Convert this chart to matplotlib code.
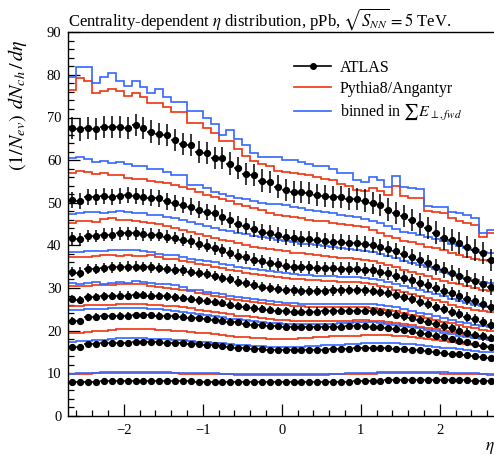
import numpy as np
import matplotlib
matplotlib.use("Agg")
import matplotlib.pyplot as plt
from matplotlib.ticker import MultipleLocator
from matplotlib.lines import Line2D

plt.rcParams['font.family'] = ['Liberation Serif', 'DejaVu Serif']
plt.rcParams['mathtext.fontset'] = 'stix'

# ---------------- data ----------------
eta_edges = np.linspace(-2.7, 2.7, 55)
eta_centers = 0.5 * (eta_edges[:-1] + eta_edges[1:])

atlas_s1 = [67.5,67.2,67.5,67.3,67.8,67.8,67.7,67.5,68.2,67.5,66.7,66.1,65.9,64.7,63.7,63.5,62.0,61.6,60.4,60.4,59.2,58.1,56.7,56.5,55.2,54.9,53.8,
            53.0,52.6,52.6,52.2,51.8,51.6,51.4,51.3,50.9,50.9,50.5,49.9,49.5,48.4,47.5,46.9,45.9,45.0,44.0,43.0,41.6,41.2,40.5,39.7,38.9,38.1,36.5]
atlas_s2 = [50.6,50.4,51.3,51.3,51.6,51.4,51.6,51.8,51.6,51.3,51.2,51.0,50.3,50.0,49.5,49.1,48.4,47.9,47.5,46.7,45.9,44.9,44.5,43.8,43.2,42.8,42.4,
            42.0,41.8,41.5,41.5,41.2,41.1,40.8,40.7,40.6,40.5,40.3,40.0,39.6,39.1,38.6,38.0,37.3,36.6,35.8,35.0,34.2,33.5,32.8,32.2,31.6,31.0,30.2]
atlas_s3 = [41.6,41.4,42.2,42.2,42.5,42.5,42.8,42.8,42.8,42.6,42.5,42.4,42.0,41.7,41.3,40.9,40.4,39.9,39.3,38.8,38.2,37.6,37.2,36.6,36.2,35.8,35.5,
            35.2,35.0,34.9,34.8,34.7,34.6,34.6,34.5,34.5,34.5,34.3,34.1,33.8,33.4,32.9,32.4,31.8,31.2,30.6,30.0,29.3,28.7,28.1,27.5,26.9,26.3,25.6]
atlas_s4 = [33.8,33.6,34.4,34.5,34.7,34.8,34.9,35.0,35.0,34.9,34.8,34.7,34.5,34.3,34.1,33.8,33.5,33.2,32.8,32.4,32.0,31.5,31.1,30.7,30.3,30.0,29.7,
            29.5,29.4,29.3,29.3,29.3,29.3,29.4,29.4,29.5,29.5,29.4,29.3,29.1,28.8,28.4,27.9,27.4,26.8,26.2,25.6,25.0,24.4,23.8,23.2,22.6,22.0,21.4]
atlas_s5 = [27.4,27.2,27.8,27.9,28.0,28.1,28.2,28.2,28.3,28.3,28.2,28.1,28.0,27.8,27.6,27.4,27.1,26.9,26.7,26.4,26.1,25.8,25.5,25.2,25.0,24.8,24.6,
            24.5,24.4,24.4,24.4,24.4,24.5,24.5,24.6,24.6,24.6,24.6,24.5,24.3,24.0,23.7,23.3,22.9,22.5,22.0,21.5,21.0,20.5,20.0,19.5,19.0,18.6,18.2]
atlas_s6 = [22.3,22.2,23.1,23.2,23.3,23.4,23.5,23.5,23.6,23.6,23.6,23.5,23.4,23.3,23.2,23.0,22.9,22.7,22.5,22.3,22.1,21.9,21.6,21.4,21.2,21.1,21.0,
            20.9,20.9,20.8,20.8,20.8,20.9,20.9,20.9,21.0,21.0,21.0,20.9,20.8,20.6,20.4,20.1,19.8,19.5,19.1,18.8,18.4,18.0,17.6,17.2,16.8,16.4,16.1]
atlas_s7 = [16.2,16.2,16.8,16.9,17.0,17.0,17.1,17.1,17.2,17.2,17.2,17.2,17.1,17.1,17.0,16.9,16.8,16.6,16.5,16.3,16.2,16.0,15.9,15.7,15.6,15.5,15.4,
            15.4,15.4,15.4,15.4,15.5,15.5,15.6,15.6,15.7,15.8,15.8,15.8,15.8,15.8,15.7,15.6,15.5,15.4,15.2,15.0,14.8,14.6,14.4,14.2,14.0,13.8,13.5]
atlas_s8 = [7.8,7.8,8.0,8.0,8.1,8.1,8.2,8.2,8.2,8.2,8.2,8.2,8.2,8.1,8.1,8.1,8.0,8.0,8.0,7.9,7.9,7.9,7.8,7.8,7.8,7.8,7.8,
            7.8,7.8,7.8,7.8,7.9,7.9,7.9,8.0,8.0,8.1,8.1,8.2,8.2,8.3,8.3,8.3,8.4,8.4,8.4,8.4,8.4,8.4,8.3,8.3,8.2,8.2,8.1]
atlas_err = [2.6, 1.9, 1.5, 1.2, 1.0, 0.8, 0.6, 0.4]

red_s1 = [76.5,79.2,78.6,75.7,76.3,76.8,76.3,75.1,75.7,74.9,73.3,73.3,72.5,71.3,71.3,68.8,68.8,67.5,66.3,64.5,64.5,62.5,61.0,59.8,59.0,58.5,57.5,
          57.2,57.0,56.7,56.5,56.0,55.6,55.3,54.3,54.0,53.0,52.8,53.5,52.8,51.8,53.9,51.5,51.2,51.0,48.0,47.9,47.6,46.3,45.8,45.2,44.8,42.0,42.8]
blue_s1 = [79.6,81.8,81.8,78.2,79.4,80.5,78.6,77.4,78.6,77.1,75.8,76.6,74.9,73.7,73.7,71.6,71.6,69.8,68.5,65.9,67.1,64.9,63.5,61.6,60.7,60.7,60.7,
           60.0,60.0,59.6,59.2,58.5,58.5,57.8,56.9,56.9,55.4,54.9,56.0,55.4,53.8,56.3,53.8,53.4,53.3,49.3,49.1,49.0,47.8,47.5,47.0,46.5,42.8,43.6]
red_s2 = [57.0,57.5,57.3,56.7,56.9,56.4,56.5,55.9,55.6,55.5,55.1,54.8,54.6,54.1,53.7,53.2,52.6,51.9,51.3,50.8,50.3,49.8,49.2,48.7,48.2,47.6,47.1,
          46.8,46.6,46.3,46.0,45.8,45.6,45.3,45.0,44.8,44.5,44.2,43.7,43.0,42.3,41.6,41.1,40.7,40.2,39.7,39.3,38.8,38.3,37.8,37.3,36.9,36.5,36.3]
blue_s2 = [60.4,60.7,60.2,59.5,59.9,59.3,59.6,59.1,58.6,58.5,57.9,57.9,57.3,56.5,56.5,54.2,54.2,53.4,52.6,52.0,51.6,51.2,50.8,50.3,50.0,49.8,49.7,
           49.4,49.0,48.7,48.3,48.0,47.8,47.5,47.2,46.9,46.6,46.2,45.8,45.2,44.6,43.8,43.2,42.8,42.4,42.0,41.5,41.0,40.4,39.9,39.4,38.9,38.5,38.3]
red_s3 = [45.3,45.8,45.8,45.4,46.2,46.3,45.9,45.9,45.7,45.5,45.2,44.9,44.5,44.0,43.6,43.1,42.6,42.1,41.7,41.3,40.9,40.5,40.1,39.7,39.4,39.1,38.8,
          38.6,38.3,38.1,37.9,37.7,37.5,37.3,37.1,37.0,36.8,36.5,36.2,35.8,35.3,34.8,34.2,33.7,33.2,32.7,32.2,31.7,31.2,30.8,30.4,30.0,29.6,29.3]
blue_s3 = [47.3,47.5,47.8,47.9,47.6,47.8,48.0,47.9,47.6,47.6,47.2,47.0,46.6,46.3,46.0,45.4,45.0,44.6,44.1,43.7,43.3,42.9,42.6,42.2,41.9,41.6,41.3,
           41.0,40.7,40.4,40.2,40.0,39.8,39.5,39.3,39.1,39.0,38.7,38.4,38.0,37.5,37.0,36.4,35.9,35.4,34.9,34.4,33.8,33.3,32.8,32.3,31.8,31.4,31.1]
red_s4 = [37.3,37.3,37.2,37.5,37.8,37.7,37.5,37.7,37.6,37.5,37.8,37.3,36.9,36.8,36.3,36.0,35.6,35.3,35.0,34.6,34.2,33.9,33.6,33.3,33.0,32.7,32.5,
          32.3,32.1,32.0,31.9,31.8,31.7,31.6,31.5,31.4,31.3,31.1,30.8,30.5,30.1,29.6,29.1,28.6,28.1,27.6,27.1,26.6,26.1,25.6,25.2,24.8,24.5,24.3]
blue_s4 = [38.5,38.4,38.6,38.7,38.6,38.8,38.8,38.9,38.9,38.7,38.4,38.0,37.7,37.7,37.2,36.9,36.6,36.3,36.0,35.6,35.3,35.0,34.7,34.4,34.1,33.9,33.7,
           33.5,33.3,33.1,33.0,32.9,32.8,32.7,32.6,32.6,32.5,32.3,32.1,31.8,31.4,31.0,30.5,30.0,29.5,29.0,28.5,28.0,27.5,27.0,26.5,26.0,25.7,25.5]
red_s5 = [30.4,30.4,30.5,30.7,30.7,30.7,30.9,30.8,30.9,30.8,30.5,30.3,30.0,29.8,29.5,29.2,28.9,28.5,28.1,27.8,27.5,27.2,27.0,26.7,26.5,26.3,26.1,
          25.9,25.8,25.7,25.6,25.6,25.6,25.6,25.6,25.6,25.6,25.5,25.3,25.1,24.8,24.5,24.1,23.7,23.3,22.9,22.5,22.1,21.7,21.3,20.9,20.5,20.2,20.0]
blue_s5 = [31.1,31.0,31.2,31.3,31.0,31.2,31.3,31.2,31.6,31.3,31.2,31.0,30.8,30.6,30.3,29.6,29.4,29.1,28.8,28.5,28.2,27.9,27.6,27.3,27.1,26.9,26.7,
           26.5,26.4,26.3,26.2,26.2,26.2,26.2,26.2,26.2,26.3,26.3,26.2,26.0,25.7,25.4,25.0,24.6,24.2,23.8,23.3,22.9,22.5,22.1,21.7,21.3,21.0,20.8]
red_s6 = [25.8,25.8,25.9,26.0,26.0,26.1,26.2,26.2,26.3,26.2,26.1,26.0,25.8,25.7,25.5,25.2,24.9,24.6,24.4,24.1,23.8,23.5,23.3,23.1,22.9,22.7,22.5,
          22.4,22.3,22.2,22.2,22.2,22.2,22.3,22.3,22.3,22.4,22.4,22.3,22.2,22.0,21.8,21.5,21.2,20.9,20.6,20.3,19.9,19.6,19.3,19.0,18.7,18.5,18.3]
blue_s6 = [24.9,24.9,25.0,25.1,25.1,25.3,25.2,25.3,25.2,25.2,25.1,25.0,24.8,24.6,24.4,24.1,23.8,23.6,23.3,23.1,22.8,22.6,22.4,22.2,22.0,21.8,21.7,
           21.6,21.5,21.5,21.5,21.5,21.6,21.6,21.7,21.8,21.9,21.9,21.9,21.8,21.6,21.4,21.1,20.8,20.5,20.2,19.8,19.5,19.1,18.8,18.5,18.2,17.9,17.7]
red_s7 = [19.3,19.4,19.6,19.8,20.0,20.1,20.3,20.4,20.4,20.3,20.3,20.2,20.1,20.0,19.9,19.7,19.5,19.3,19.1,18.9,18.7,18.5,18.4,18.3,18.2,18.1,18.0,
          18.0,18.1,18.2,18.3,18.4,18.5,18.6,18.7,18.8,18.8,18.9,18.9,18.9,18.9,18.8,18.6,18.4,18.2,18.0,17.8,17.5,17.3,17.0,16.8,16.6,16.4,16.2]
blue_s7 = [17.4,17.5,17.6,17.7,17.8,18.0,18.2,18.3,18.2,18.2,18.1,18.0,18.0,17.8,17.7,17.6,17.4,17.3,17.1,17.0,16.8,16.7,16.5,16.4,16.3,16.2,16.2,
           16.2,16.2,16.2,16.3,16.4,16.5,16.6,16.7,16.8,16.9,17.0,17.0,17.1,17.1,17.0,16.9,16.8,16.6,16.4,16.2,16.0,15.8,15.6,15.4,15.2,15.0,14.9]
red_s8 = [9.8,9.9,9.9,10.0,10.0,10.0,10.1,10.1,10.1,10.1,10.0,10.0,10.0,10.0,9.9,9.9,9.9,9.8,9.8,9.7,9.7,9.6,9.6,9.5,9.5,9.5,9.5,
          9.5,9.5,9.5,9.6,9.6,9.6,9.7,9.7,9.8,9.8,9.9,9.9,10.0,10.0,10.0,10.1,10.1,10.1,10.0,10.0,9.9,9.9,9.8,9.8,9.7,9.7,9.6]
blue_s8 = [9.9,10.0,10.0,10.1,10.2,10.2,10.3,10.3,10.3,10.2,10.2,10.2,10.2,10.1,10.1,10.1,10.1,10.0,10.0,9.9,9.9,9.8,9.8,9.7,9.7,9.7,9.7,
           9.7,9.7,9.7,9.8,9.8,9.8,9.9,9.9,10.0,10.0,10.1,10.1,10.2,10.2,10.3,10.3,10.3,10.3,10.3,10.2,10.2,10.1,10.1,10.0,10.0,9.9,9.9]

atlas_series = [atlas_s1, atlas_s2, atlas_s3, atlas_s4, atlas_s5, atlas_s6, atlas_s7, atlas_s8]
red_series = [red_s1, red_s2, red_s3, red_s4, red_s5, red_s6, red_s7, red_s8]
blue_series = [blue_s1, blue_s2, blue_s3, blue_s4, blue_s5, blue_s6, blue_s7, blue_s8]

legend_labels = ["ATLAS", "Pythia8/Angantyr", r"binned in $\sum E_{\perp,fwd}$"]

RED = '#EE3311'
BLUE = '#3366FF'

# ---------------- figure ----------------
W, H = 494, 455
fig = plt.figure(figsize=(W / 100, H / 100), dpi=100)
ax_left, ax_right, ax_top, ax_bottom = 68.4, 495.0, 32.3, 415.7
ax = fig.add_axes([ax_left / W, 1 - ax_bottom / H, (ax_right - ax_left) / W, (ax_bottom - ax_top) / H])

for red, blue in zip(red_series, blue_series):
    ax.stairs(red, eta_edges, color=RED, lw=1.2, baseline=None, zorder=2)
    ax.stairs(blue, eta_edges, color=BLUE, lw=1.2, baseline=None, zorder=2)

for vals, err in zip(atlas_series, atlas_err):
    ax.errorbar(eta_centers, vals, yerr=err, xerr=0.05, fmt='o', color='black',
                ms=4.2, elinewidth=1.1, capsize=0, zorder=3)

ax.set_xlim(-2.7, 2.7)
ax.set_ylim(0, 90)
ax.xaxis.set_major_locator(MultipleLocator(1))
ax.xaxis.set_minor_locator(MultipleLocator(0.2))
ax.yaxis.set_major_locator(MultipleLocator(10))
ax.yaxis.set_minor_locator(MultipleLocator(2))
ax.tick_params(which='both', direction='in', top=False, right=False, labelsize=10.5)
ax.tick_params(which='major', length=8.5, width=0.9)
ax.tick_params(which='minor', length=4.3, width=0.9)
ax.tick_params(axis='x', pad=6)
ax.tick_params(axis='y', pad=5)
for s in ax.spines.values():
    s.set_linewidth(1.0)

ax.set_title(r"Centrality-dependent $\eta$ distribution, pPb, $\sqrt{S_{NN}} = 5$ TeV.",
             loc='left', fontsize=12, pad=5)
ax.set_ylabel(r"$(1/N_{ev})\;\,dN_{ch}\,/\,d\eta$", fontsize=14.5)
ax.yaxis.set_label_coords(-0.092, 0.98)
ax.yaxis.label.set_horizontalalignment('right')
ax.text(1.0, -0.085, r"$\eta$", transform=ax.transAxes, fontsize=12.5, ha='right', va='center')

handles = [Line2D([], [], color='black', marker='o', ms=4, lw=1.2),
           Line2D([], [], color=RED, lw=1.2),
           Line2D([], [], color=BLUE, lw=1.2)]
ax.legend(handles, legend_labels, loc='upper left', bbox_to_anchor=(0.53, 0.928),
          frameon=False, fontsize=11.5, handlelength=2.3, handletextpad=0.55,
          labelspacing=0.32, borderpad=0, borderaxespad=0)

fig.savefig("out.png", dpi=100)
